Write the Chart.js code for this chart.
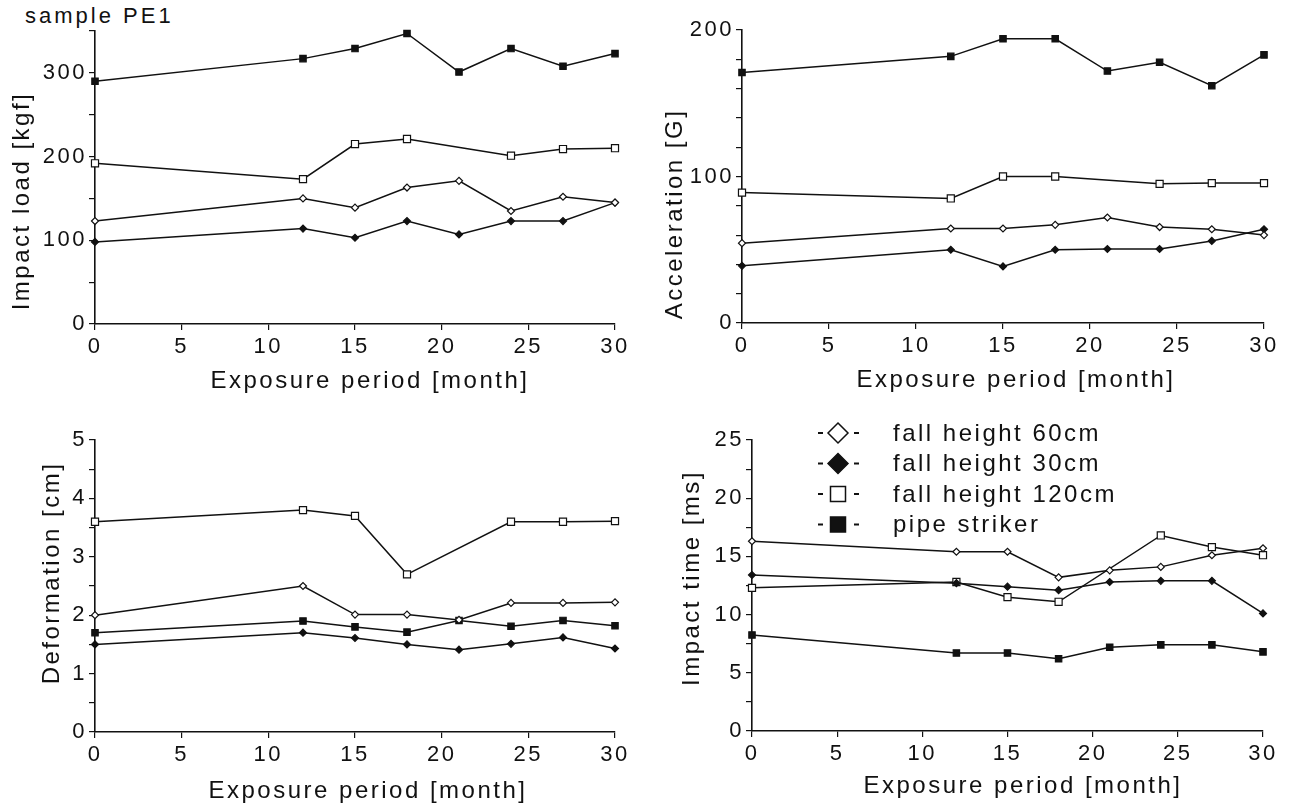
<!DOCTYPE html>
<html>
<head>
<meta charset="utf-8">
<script src="https://cdn.jsdelivr.net/npm/chart.js@4.4.1/dist/chart.umd.min.js"></script>
<style>
  body { margin: 0; background: #fff; width: 1303px; height: 807px; position: relative; overflow: hidden; font-family: "Liberation Sans", Arial, sans-serif; }
  canvas { position: absolute; }
  #sample { position: absolute; left: 25px; top: 3px; font-size: 22px; letter-spacing: 3px; color: #111; }
</style>
</head>
<body>
<div id="sample">sample PE1</div>
<canvas id="c1" width="650" height="400" style="left:0;top:0"></canvas>
<canvas id="c2" width="653" height="400" style="left:650px;top:0"></canvas>
<canvas id="c3" width="650" height="407" style="left:0;top:400px"></canvas>
<canvas id="c4" width="653" height="407" style="left:650px;top:400px"></canvas>
<script>
// exposure periods [month]
const months = [0, 12, 15, 18, 21, 24, 27, 30];
const seriesNames = ['fall height 60cm', 'fall height 30cm', 'fall height 120cm', 'pipe striker'];

// Impact load [kgf]
const load60 = [123, 150, 139, 163, 171, 135, 152, 145];
const load30 = [98, 114, 103, 123, 107, 123, 123, 145];
const load120 = [192, 173, 215, 221, null, 201, 209, 210];
const loadPipe = [290, 317, 329, 347, 301, 329, 308, 323];

// Acceleration [G]
const acc60 = [54.5, 64.5, 64.5, 67, 72, 65.5, 64, 60];
const acc30 = [39, 50, 38.6, 50, 50.5, 50.5, 56, 64];
const acc120 = [89, 85, 100, 100, null, 95, 95.5, 95.5];
const accPipe = [171, 182, 194, 194, 172, 178, 162, 183];

// Deformation [cm]
const def60 = [2.0, 2.5, 2.01, 2.01, 1.92, 2.21, 2.21, 2.22];
const def30 = [1.5, 1.7, 1.61, 1.5, 1.41, 1.51, 1.62, 1.43];
const def120 = [3.6, 3.8, 3.7, 2.7, null, 3.6, 3.6, 3.61];
const defPipe = [1.7, 1.9, 1.8, 1.71, 1.91, 1.81, 1.91, 1.82];

// Impact time [ms]
const time60 = [16.3, 15.4, 15.4, 13.2, 13.8, 14.1, 15.1, 15.7];
const time30 = [13.4, 12.7, 12.4, 12.1, 12.8, 12.9, 12.9, 10.1];
const time120 = [12.3, 12.8, 11.5, 11.1, null, 16.8, 15.8, 15.1];
const timePipe = [8.25, 6.7, 6.7, 6.2, 7.2, 7.4, 7.4, 6.8];

const INK = '#111';
const FONT = '"Liberation Sans", Arial, sans-serif';

// marker look per series (60, 30, 120, pipe)
const markers = [
  { style: 'rectRot', radius: 3.5, fill: '#fff' },
  { style: 'rectRot', radius: 3.5, fill: INK },
  { style: 'rect', radius: 5, fill: '#fff' },
  { style: 'rect', radius: 4.5, fill: INK }
];

function makeSets(lists) {
  return lists.map((vals, i) => ({
    label: seriesNames[i],
    data: months.map((m, j) => ({ x: m, y: vals[j] })).filter(p => p.y !== null),
    borderColor: INK,
    borderWidth: 1.5,
    pointStyle: markers[i].style,
    pointRadius: markers[i].radius,
    pointBackgroundColor: markers[i].fill,
    pointBorderColor: INK,
    pointBorderWidth: 1.2,
    fill: false,
    tension: 0,
    clip: false
  }));
}

function drawMarker(ctx, m, x, y, r) {
  ctx.beginPath();
  if (m.style === 'rect') {
    ctx.rect(x - r, y - r, 2 * r, 2 * r);
  } else {
    ctx.moveTo(x, y - r); ctx.lineTo(x + r, y); ctx.lineTo(x, y + r); ctx.lineTo(x - r, y); ctx.closePath();
  }
  ctx.fillStyle = m.fill;
  ctx.fill();
  ctx.lineWidth = 1.5;
  ctx.strokeStyle = INK;
  ctx.stroke();
}

const panelText = {
  id: 'panelText',
  beforeDraw(chart) {
    chart.ctx.letterSpacing = '2.5px';
  },
  afterDraw(chart, args, o) {
    const ctx = chart.ctx;
    ctx.save();
    ctx.fillStyle = INK;
    ctx.font = '24px ' + FONT;
    ctx.letterSpacing = '2.5px';
    ctx.textAlign = 'center';
    ctx.textBaseline = 'alphabetic';
    ctx.fillText(o.xTitle, o.xt[0], o.xt[1]);
    ctx.save();
    ctx.translate(o.yt[0], o.yt[1]);
    ctx.rotate(-Math.PI / 2);
    ctx.textBaseline = 'middle';
    ctx.fillText(o.yTitle, 0, 0);
    ctx.restore();
    if (o.legend) {
      const lg = o.legend;
      seriesNames.forEach((name, i) => {
        const y = lg.y + i * lg.gap;
        ctx.fillStyle = INK;
        ctx.fillRect(lg.x - 20, y - 1, 5, 2);
        ctx.fillRect(lg.x + 16, y - 1, 5, 2);
        const m = markers[i];
        drawMarker(ctx, m, lg.x, y, m.style === 'rect' ? 7.5 : 10);
        ctx.fillStyle = INK;
        ctx.textAlign = 'left';
        ctx.textBaseline = 'middle';
        ctx.fillText(name, lg.tx, y + 1);
      });
    }
    ctx.restore();
  }
};

function makeChart(id, lists, p) {
  const canvas = document.getElementById(id);
  const W = canvas.width, H = canvas.height;
  const xh = 40;
  return new Chart(canvas, {
    type: 'line',
    data: { datasets: makeSets(lists) },
    plugins: [panelText],
    options: {
      responsive: false,
      animation: false,
      devicePixelRatio: 1,
      layout: {
        autoPadding: false,
        padding: { left: 0, top: p.top, right: W - p.right, bottom: H - p.bottom - xh }
      },
      plugins: {
        legend: { display: false },
        tooltip: { enabled: false },
        panelText: p.text
      },
      scales: {
        x: {
          type: 'linear', min: 0, max: 30,
          afterFit: s => { s.height = xh; },
          border: { display: true, color: INK, width: 1.6 },
          grid: { drawOnChartArea: false, drawTicks: true, tickLength: 6, color: INK, lineWidth: 1.2 },
          ticks: { stepSize: 5, autoSkip: false, maxRotation: 0, color: INK, padding: 4, font: { family: FONT, size: 22 } }
        },
        y: {
          type: 'linear', min: 0, max: p.max,
          afterFit: s => { s.width = p.left; },
          border: { display: true, color: INK, width: 1.6 },
          grid: { drawOnChartArea: false, drawTicks: true, tickLength: 6, color: INK, lineWidth: 1.2 },
          ticks: {
            stepSize: p.step, autoSkip: false, color: INK, padding: 2,
            font: { family: FONT, size: 22 },
            callback: v => (Math.abs(v / p.major - Math.round(v / p.major)) < 1e-6 ? String(v) : '')
          }
        }
      }
    }
  });
}

makeChart('c1', [load60, load30, load120, loadPipe], {
  left: 95, right: 615, top: 31, bottom: 324, max: 350, step: 50, major: 100,
  text: { xTitle: 'Exposure period [month]', xt: [370, 388], yTitle: 'Impact load [kgf]', yt: [22, 201] }
});
makeChart('c2', [acc60, acc30, acc120, accPipe], {
  left: 92, right: 614, top: 30, bottom: 323, max: 200, step: 20, major: 100,
  text: { xTitle: 'Exposure period [month]', xt: [366, 387], yTitle: 'Acceleration [G]', yt: [25, 214] }
});
makeChart('c3', [def60, def30, def120, defPipe], {
  left: 95, right: 615, top: 40, bottom: 332, max: 5, step: 0.5, major: 1,
  text: { xTitle: 'Exposure period [month]', xt: [368, 398], yTitle: 'Deformation [cm]', yt: [52, 173] }
});
makeChart('c4', [time60, time30, time120, timePipe], {
  left: 102, right: 613, top: 40, bottom: 331, max: 25, step: 2.5, major: 5,
  text: {
    xTitle: 'Exposure period [month]', xt: [373, 393], yTitle: 'Impact time [ms]', yt: [42, 178],
    legend: { x: 188, y: 33, gap: 30.5, tx: 243 }
  }
});
</script>
</body>
</html>
